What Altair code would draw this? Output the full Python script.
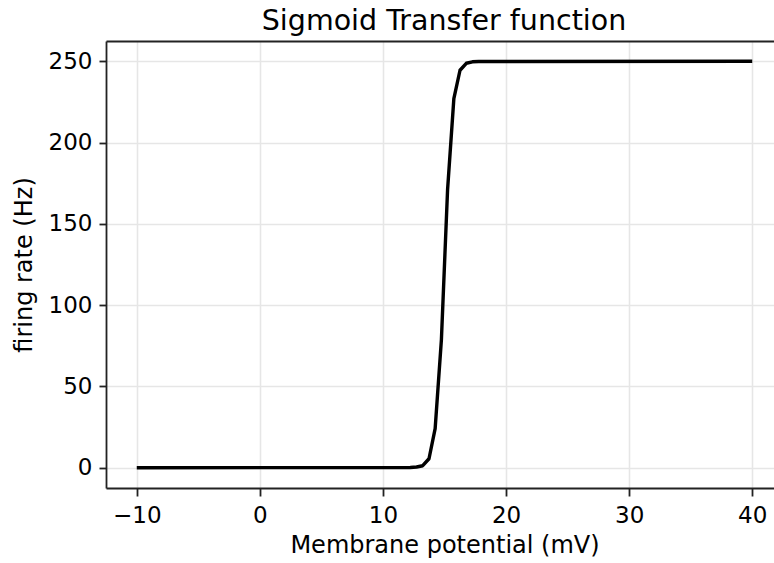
import altair as alt
import pandas as pd

# Membrane potential (mV) and firing rate (Hz)
potential_mv = [-10.0, 11.72, 12.22, 12.73, 13.23, 13.74, 14.24, 14.75, 15.25,
                15.76, 16.26, 16.77, 17.27, 17.78, 40.0]
rate_hz = [0.0, 0.05, 0.1, 0.4, 1.2, 5.5, 24.0, 79.0, 171.0,
           227.0, 244.5, 248.8, 249.7, 249.9, 250.0]

x_domain = [-12.5, 42.5]
y_domain = [-12.5, 262.5]
x_ticks = [-10, 0, 10, 20, 30, 40]
y_ticks = [0, 50, 100, 150, 200, 250]

df = pd.DataFrame({"v": potential_mv, "r": rate_hz})

FONT = "DejaVu Sans"
W, H = 668, 447

xscale = alt.Scale(domain=x_domain, range=[0, 677], nice=False, zero=False)
yscale = alt.Scale(domain=y_domain, nice=False, zero=False)

base = alt.Chart(df)

curve = base.mark_line(color="black", strokeWidth=3.4, strokeJoin="round").encode(
    x=alt.X("v:Q", scale=xscale,
            axis=alt.Axis(values=x_ticks, title="Membrane potential (mV)",
                          labelExpr="replace(datum.label, '-', '\u2212')",
                          tickSize=8, labelPadding=8, titlePadding=6)),
    y=alt.Y("r:Q", scale=yscale,
            axis=alt.Axis(values=y_ticks, title="firing rate (Hz)",
                          tickSize=7, labelPadding=7, titlePadding=12)),
)

frame_top = base.mark_line(opacity=0).encode(
    x=alt.X("v:Q", scale=xscale,
            axis=alt.Axis(orient="top", labels=False, ticks=False, grid=False,
                          domain=True, title=None)),
    y=alt.Y("r:Q", scale=yscale, axis=None),
)

chart = (
    alt.layer(curve, frame_top)
    .resolve_axis(x="independent", y="independent")
    .properties(
        width=W, height=H,
        background="white",
        autosize=alt.AutoSizeParams(type="none"),
        padding={"left": 106, "top": 41, "right": 0, "bottom": 75},
        title=alt.TitleParams("Sigmoid Transfer function", font=FONT, fontSize=28.5,
                              fontWeight="normal", color="black", anchor="middle",
                              offset=6, dx=4),
    )
    .configure_view(stroke=None)
    .configure_axis(
        labelFont=FONT, titleFont=FONT, labelFontSize=23, titleFontSize=24,
        labelColor="black", titleColor="black", titleFontWeight="normal",
        domainColor="#222222", domainWidth=1.8, tickColor="#222222", tickWidth=1.8,
        gridColor="#e6e6e6", gridWidth=1.6,
    )
)

chart.save("out.html", embed_options={"renderer": "svg", "actions": False})
